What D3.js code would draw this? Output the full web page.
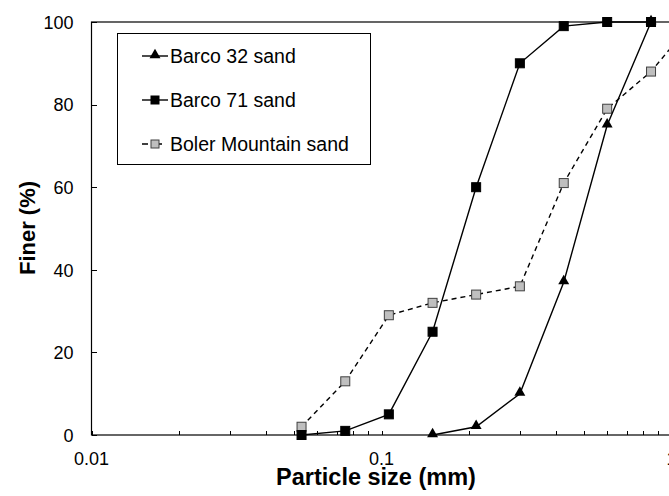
<!DOCTYPE html>
<html lang="en">
<head>
  <meta charset="utf-8">
  <title>Particle size distribution</title>
  <script src="https://cdn.jsdelivr.net/npm/d3@7"></script>
  <style>
    body {
      margin: 0;
      background: #fff;
      font-family: Arial, "Liberation Sans", sans-serif;
    }
    .tick text {
      font-size: 18px;
      fill: #000;
    }
    .axis path, .axis line {
      stroke: #000;
      shape-rendering: crispEdges;
    }
  </style>
</head>
<body>
<script>
  // sieve sizes (mm) and percent finer for each sand
  var barco32Sizes = [0.15, 0.212, 0.3, 0.425, 0.6, 0.85];
  var barco32 = [0, 2, 10, 37, 75, 100];

  var barco71Sizes = [0.053, 0.075, 0.106, 0.15, 0.212, 0.3, 0.425, 0.6, 0.85];
  var barco71 = [0, 1, 5, 25, 60, 90, 99, 100, 100];

  var bolerSizes = [0.053, 0.075, 0.106, 0.15, 0.212, 0.3, 0.425, 0.6, 0.85, 1.18];
  var boler = [2, 13, 29, 32, 34, 36, 61, 79, 88, 100];

  var yTicks = [0, 20, 40, 60, 80, 100];
  var xLabels = [0.01, 0.1, 1];
  var seriesNames = ["Barco 32 sand", "Barco 71 sand", "Boler Mountain sand"];

  var W = 669, H = 496;
  var margin = {top: 22, left: 91.5};
  var plotRight = 671.5, plotBottom = 435;

  var svg = d3.select("body").append("svg")
    .attr("width", W)
    .attr("height", H);

  var x = d3.scaleLog().domain([0.01, 1]).range([margin.left, plotRight]);
  var y = d3.scaleLinear().domain([0, 100]).range([plotBottom, margin.top]);

  // minor ticks 0.01..1
  var minor = [];
  [0.01, 0.1].forEach(function(d) {
    for (var i = 1; i < 10; i++) minor.push(+(d * i).toPrecision(3));
  });
  minor.push(1);

  // plot frame
  svg.append("rect")
    .attr("x", margin.left)
    .attr("y", margin.top)
    .attr("width", plotRight - margin.left)
    .attr("height", plotBottom - margin.top)
    .attr("fill", "none")
    .attr("stroke", "#000")
    .attr("stroke-width", 1.2);

  // x axis: inward ticks
  var xAxis = svg.append("g")
    .attr("class", "axis")
    .attr("transform", "translate(0," + plotBottom + ")")
    .call(d3.axisBottom(x).tickValues(minor).tickSize(-4).tickFormat(""));
  xAxis.select(".domain").remove();

  svg.append("g")
    .selectAll("text")
    .data(xLabels)
    .enter().append("text")
    .attr("x", function(d) { return x(d); })
    .attr("y", 465)
    .attr("text-anchor", "middle")
    .style("font-size", "18px")
    .text(function(d) { return d; });

  // y axis
  var yAxis = svg.append("g")
    .attr("class", "axis")
    .attr("transform", "translate(" + margin.left + ",0)")
    .call(d3.axisLeft(y).tickValues(yTicks).tickSize(-5).tickPadding(18));
  yAxis.select(".domain").remove();
  yAxis.selectAll(".tick text").attr("dy", "0.35em");

  // axis titles
  svg.append("text")
    .attr("x", 376)
    .attr("y", 485)
    .attr("text-anchor", "middle")
    .style("font-size", "23.5px")
    .style("font-weight", "bold")
    .text("Particle size (mm)");

  svg.append("text")
    .attr("transform", "translate(35,228) rotate(-90)")
    .attr("text-anchor", "middle")
    .style("font-size", "22px")
    .style("font-weight", "bold")
    .text("Finer (%)");

  var line = d3.line()
    .x(function(d) { return x(d[0]); })
    .y(function(d) { return y(d[1]); });

  var tri = d3.symbol().type(d3.symbolTriangle).size(52);

  function drawSeries(xs, vs, opts) {
    var pts = xs.map(function(s, i) { return [s, vs[i]]; });
    var g = svg.append("g");
    g.append("path")
      .attr("d", line(pts))
      .attr("fill", "none")
      .attr("stroke", "#000")
      .attr("stroke-width", 1.4)
      .attr("stroke-dasharray", opts.dash || null);
    if (opts.marker === "triangle") {
      g.selectAll("path.m").data(pts).enter().append("path")
        .attr("class", "m")
        .attr("d", tri)
        .attr("transform", function(d) { return "translate(" + x(d[0]) + "," + (y(d[1]) - 1) + ")"; })
        .attr("fill", "#000");
    } else {
      var s = 9;
      g.selectAll("rect").data(pts).enter().append("rect")
        .attr("x", function(d) { return x(d[0]) - s / 2; })
        .attr("y", function(d) { return y(d[1]) - s / 2; })
        .attr("width", s)
        .attr("height", s)
        .attr("fill", opts.fill)
        .attr("stroke", opts.stroke)
        .attr("stroke-width", 1);
    }
  }

  drawSeries(bolerSizes, boler, {marker: "square", fill: "#bfbfbf", stroke: "#404040", dash: "5,4"});
  drawSeries(barco71Sizes, barco71, {marker: "square", fill: "#000", stroke: "#000"});
  drawSeries(barco32Sizes, barco32, {marker: "triangle"});

  // legend
  var lg = svg.append("g");
  lg.append("rect")
    .attr("x", 117.5)
    .attr("y", 33.5)
    .attr("width", 253)
    .attr("height", 131)
    .attr("fill", "#fff")
    .attr("stroke", "#000")
    .attr("stroke-width", 1);

  var rows = [
    {name: seriesNames[0], marker: "triangle"},
    {name: seriesNames[1], marker: "square", fill: "#000", stroke: "#000"},
    {name: seriesNames[2], marker: "square", fill: "#bfbfbf", stroke: "#404040", dash: "5,4"}
  ];
  rows.forEach(function(r, i) {
    var cy = 56 + i * 44;
    lg.append("line")
      .attr("x1", 142).attr("x2", 168)
      .attr("y1", cy).attr("y2", cy)
      .attr("stroke", "#000")
      .attr("stroke-width", 1.4)
      .attr("stroke-dasharray", r.dash ? "6,8" : null);
    if (r.marker === "triangle") {
      lg.append("path").attr("d", tri)
        .attr("transform", "translate(155," + (cy - 1) + ")")
        .attr("fill", "#000");
    } else {
      lg.append("rect")
        .attr("x", 151).attr("y", cy - 4)
        .attr("width", 8).attr("height", 8)
        .attr("fill", r.fill)
        .attr("stroke", r.stroke);
    }
    lg.append("text")
      .attr("x", 170)
      .attr("y", cy + 7)
      .style("font-size", "19.5px")
      .text(r.name);
  });
</script>
</body>
</html>
